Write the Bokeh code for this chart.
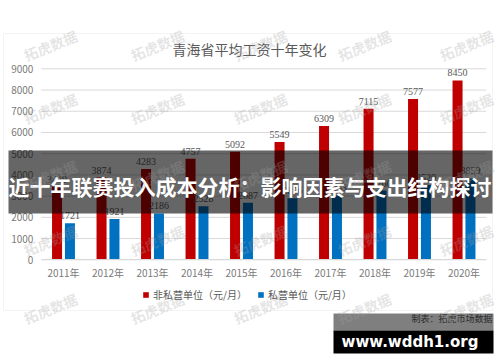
import math
from bokeh.plotting import figure
from bokeh.models import (Range1d, FixedTicker, ColumnDataSource, LabelSet, Label,
                          BoxAnnotation, Legend, LegendItem, LinearAxis)
from bokeh.transform import dodge
from bokeh.embed import file_html
from bokeh.resources import INLINE

# ---------------- data ----------------
years = ["2011年", "2012年", "2013年", "2014年", "2015年",
         "2016年", "2017年", "2018年", "2019年", "2020年"]
non_private = [3449, 3874, 4283, 4757, 5092, 5549, 6309, 7115, 7577, 8450]
private = [1721, 1921, 2186, 2528, 2687, 2896, 3033, 3260, 3520, 3859]
y_ticks = [0, 1000, 2000, 3000, 4000, 5000, 6000, 7000, 8000, 9000]
series_names = ["非私营单位（元/月）", "私营单位（元/月）"]
title_text = "青海省平均工资十年变化"
banner_text = "近十年联赛投入成本分析：影响因素与支出结构探讨"
credit_text = "制表：拓虎市场数据"
site_text = "www.wddh1.org"
watermark_text = "拓虎数据"

# ---------------- layout ----------------
W, H = 500, 362
FONT = "Noto Sans CJK SC"
RED, BLUE = "#c00000", "#0070c0"

# plot frame covers the whole canvas; ranges chosen so the chart area sits inside it
X0_PX, X_STEP = 63.0, 44.5          # pixel of first category centre, pixels per category
Y0_PX, Y_PER = 259.3, 191.0 / 9000  # pixel of value 0, pixels per unit
x_range = Range1d(-X0_PX / X_STEP, (W - X0_PX) / X_STEP)
y_range = Range1d(-(H - Y0_PX) / Y_PER, Y0_PX / Y_PER)


def sy(y):  # screen y measured from the top -> bokeh screen units (from bottom)
    return H - y


xs = list(range(len(years)))
src = ColumnDataSource(dict(
    x=xs, np=non_private, pv=private,
    np_lbl=[str(v) for v in non_private], pv_lbl=[str(v) for v in private]))

p = figure(width=W, height=H, x_range=x_range, y_range=y_range,
           x_axis_type=None, y_axis_type=None,
           output_backend="svg", toolbar_location=None, min_border=0)
p.outline_line_color = None
p.background_fill_color = "white"
p.border_fill_color = "white"
p.xgrid.visible = False
p.ygrid.visible = False

# chart frame border (behind everything)
p.add_layout(BoxAnnotation(left=3, right=492, top=sy(33), bottom=sy(310),
                           left_units="screen", right_units="screen", top_units="screen",
                           bottom_units="screen", fill_color=None, line_color="#d9d9d9",
                           line_width=1, level="underlay"))

# horizontal grid lines across the category area
p.segment(x0=[xs[0] - 0.5] * len(y_ticks), x1=[xs[-1] + 0.5] * len(y_ticks),
          y0=y_ticks, y1=y_ticks, line_color="#d9d9d9", line_width=1)

r1 = p.vbar(x=dodge("x", -0.145), top="np", width=0.225, source=src,
            fill_color=RED, line_color=None)
r2 = p.vbar(x=dodge("x", 0.145), top="pv", width=0.225, source=src,
            fill_color=BLUE, line_color=None)

# axes at fixed locations inside the frame
yax = LinearAxis(fixed_location=xs[0] - 0.52, ticker=FixedTicker(ticks=y_ticks))
yax.axis_line_color = None
yax.major_label_standoff = 7
p.add_layout(yax, "left")

xax = LinearAxis(fixed_location=0, bounds=(xs[0] - 0.5, xs[-1] + 0.5),
                 ticker=FixedTicker(ticks=xs),
                 major_label_overrides={i: y for i, y in zip(xs, years)})
xax.axis_line_color = "#d9d9d9"
xax.major_label_standoff = 5
p.add_layout(xax, "below")

for ax in (xax, yax):
    ax.major_tick_line_color = None
    ax.minor_tick_line_color = None
    ax.major_tick_out = 0
    ax.major_tick_in = 0
    ax.minor_tick_out = 0
    ax.minor_tick_in = 0
    ax.major_label_text_font = FONT
    ax.major_label_text_font_size = "10px"
    ax.major_label_text_color = "#7a7a7a"

# title
p.add_layout(Label(x=249, y=sy(48), x_units="screen", y_units="screen", text=title_text,
                   text_align="center", text_baseline="middle", text_font=FONT,
                   text_font_size="14px", text_color="#595959"))

# data labels
for col, lbl, off in (("np", "np_lbl", -0.145), ("pv", "pv_lbl", 0.145)):
    p.add_layout(LabelSet(x=dodge("x", off), y=col, text=lbl, source=src,
                          y_offset=4, text_align="center", text_baseline="bottom",
                          text_font=FONT, text_font_size="10px", text_color="#595959"))

# legend
legend = Legend(items=[LegendItem(label=series_names[0], renderers=[r1]),
                       LegendItem(label=series_names[1], renderers=[r2])],
                orientation="horizontal", location=(142, sy(302)),
                glyph_width=7, glyph_height=7, label_height=12, label_standoff=4,
                spacing=10, padding=0, margin=0, border_line_color=None,
                background_fill_alpha=0, label_text_font=FONT, label_text_font_size="10px",
                label_text_color="#595959")
p.add_layout(legend)

# credit
p.add_layout(Label(x=492, y=sy(318), x_units="screen", y_units="screen", text=credit_text,
                   text_align="right", text_baseline="middle", text_font=FONT,
                   text_font_size="9px", text_color="#595959"))

# banner
p.add_layout(BoxAnnotation(left=8, right=492, top=sy(150), bottom=sy(213),
                           left_units="screen", right_units="screen", top_units="screen",
                           bottom_units="screen", fill_color="black", fill_alpha=0.6,
                           line_color=None))
p.add_layout(Label(x=249.5, y=sy(185), x_units="screen", y_units="screen", text=banner_text,
                   text_align="center", text_baseline="middle", text_font=FONT,
                   text_font_size="21px", text_font_style="bold", text_color="white"))

# bottom site box
p.add_layout(BoxAnnotation(left=333, right=493, top=sy(313), bottom=sy(330),
                           left_units="screen", right_units="screen", top_units="screen",
                           bottom_units="screen", fill_color="black", fill_alpha=0.5,
                           line_color=None))
p.add_layout(BoxAnnotation(left=333, right=493, top=sy(330), bottom=sy(353),
                           left_units="screen", right_units="screen", top_units="screen",
                           bottom_units="screen", fill_color="black", fill_alpha=1.0,
                           line_color=None))
p.add_layout(Label(x=409.5, y=sy(341), x_units="screen", y_units="screen", text=site_text,
                   text_align="center", text_baseline="middle", text_font="DejaVu Sans",
                   text_font_size="15px", text_font_style="bold", text_color="white"))

# watermarks
for wy in (45, 108, 175, 240, 308):
    for wx in (50, 157, 260, 364, 466):
        p.add_layout(Label(x=wx, y=sy(wy), x_units="screen", y_units="screen",
                           text=watermark_text, angle=math.radians(22), text_align="center",
                           text_baseline="middle", text_font=FONT, text_font_size="14px",
                           text_font_style="bold", text_color="#a0a0a0", text_alpha=0.28))

open("out.html", "w").write(file_html(p, INLINE))
